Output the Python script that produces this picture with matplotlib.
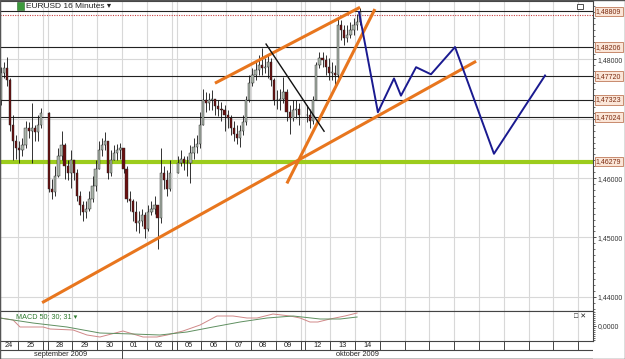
import matplotlib
matplotlib.use('Agg')
import matplotlib.pyplot as plt
from matplotlib.patches import Rectangle
from matplotlib.ticker import FixedLocator, FixedFormatter, MultipleLocator, NullFormatter

plt.rcParams['font.family'] = ['Liberation Sans', 'DejaVu Sans']

# ---- sessions ----
day_labels = ['24', '25', '28', '29', '30', '01', '02', '05', '06', '07', '08', '09', '12', '13', '14']
weekend_after = ['25', '02', '09']
future_cells = 9
bars_per_day = [8] * 14 + [2]
months = [('september 2009', 0, 5), ('oktober 2009', 5, None)]

# ---- candles (open = previous close) ----
first_open = 1.4734
closes = [
    1.4739, 1.4731, 1.4778, 1.4785, 1.4765, 1.4689, 1.4663, 1.4650,  # 24
    1.4647, 1.4655, 1.4684, 1.4680, 1.4684, 1.4677, 1.4689, 1.4709,  # 25
    1.4582, 1.4576, 1.4604, 1.4638, 1.4655, 1.4621, 1.4609, 1.4630,  # 28
    1.4609, 1.4570, 1.4554, 1.4542, 1.4548, 1.4565, 1.4587, 1.4616,  # 29
    1.4647, 1.4655, 1.4663, 1.4609, 1.4630, 1.4643, 1.4647, 1.4650,  # 30
    1.4616, 1.4565, 1.4562, 1.4542, 1.4525, 1.4528, 1.4537, 1.4515,  # 01
    1.4542, 1.4548, 1.4554, 1.4532, 1.4609, 1.4596, 1.4582, 1.4609,  # 02
    1.4626, 1.4633, 1.4625, 1.4626, 1.4643, 1.4652, 1.4658, 1.4689,  # 05
    1.4731, 1.4726, 1.4731, 1.4734, 1.4721, 1.4717, 1.4714, 1.4706,  # 06
    1.4701, 1.4684, 1.4675, 1.4668, 1.4680, 1.4694, 1.4731, 1.4761,  # 07
    1.4773, 1.4782, 1.4790, 1.4785, 1.4788, 1.4795, 1.4765, 1.4731,  # 08
    1.4731, 1.4734, 1.4745, 1.4711, 1.4701, 1.4714, 1.4717, 1.4706,  # 09
    1.4706, 1.4697, 1.4731, 1.4790, 1.4802, 1.4799, 1.4787, 1.4778,  # 12
    1.4778, 1.4773, 1.4858, 1.4849, 1.4836, 1.4841, 1.4849, 1.4858,  # 13
    1.4863, 1.4880,                                                  # 14
]
highs = [
    1.4751, 1.4748, 1.4787, 1.4795, 1.4804, 1.4768, 1.4706, 1.4672,
    1.4663, 1.4667, 1.4697, 1.4694, 1.4726, 1.4689, 1.4706, 1.4719,
    1.4711, 1.4599, 1.4621, 1.4650, 1.4680, 1.4660, 1.4630, 1.4647,
    1.4630, 1.4616, 1.4579, 1.4562, 1.4562, 1.4579, 1.4604, 1.4630,
    1.4663, 1.4667, 1.4677, 1.4663, 1.4647, 1.4655, 1.4658, 1.4660,
    1.4650, 1.4621, 1.4579, 1.4565, 1.4562, 1.4545, 1.4548, 1.4542,
    1.4554, 1.4562, 1.4570, 1.4554, 1.4650, 1.4621, 1.4613, 1.4630,
    1.4638, 1.4647, 1.4638, 1.4638, 1.4655, 1.4668, 1.4672, 1.4711,
    1.4751, 1.4745, 1.4743, 1.4748, 1.4734, 1.4731, 1.4728, 1.4723,
    1.4714, 1.4706, 1.4697, 1.4689, 1.4689, 1.4706, 1.4739, 1.4773,
    1.4785, 1.4795, 1.4807, 1.4819, 1.4802, 1.4807, 1.4802, 1.4768,
    1.4748, 1.4751, 1.4770, 1.4750, 1.4723, 1.4731, 1.4731, 1.4726,
    1.4723, 1.4717, 1.4739, 1.4795, 1.4812, 1.4812, 1.4807, 1.4802,
    1.4795, 1.4790, 1.4870, 1.4866, 1.4858, 1.4858, 1.4863, 1.4870,
    1.4876, 1.4886,
]
lows = [
    1.4728, 1.4723, 1.4723, 1.4768, 1.4756, 1.4680, 1.4630, 1.4633,
    1.4625, 1.4638, 1.4650, 1.4668, 1.4625, 1.4663, 1.4663, 1.4684,
    1.4576, 1.4565, 1.4570, 1.4601, 1.4630, 1.4599, 1.4596, 1.4584,
    1.4596, 1.4562, 1.4537, 1.4528, 1.4532, 1.4545, 1.4560, 1.4579,
    1.4616, 1.4638, 1.4647, 1.4599, 1.4604, 1.4630, 1.4630, 1.4633,
    1.4609, 1.4559, 1.4545, 1.4528, 1.4511, 1.4508, 1.4520, 1.4499,
    1.4511, 1.4537, 1.4540, 1.4481, 1.4525, 1.4582, 1.4570, 1.4579,
    1.4609, 1.4621, 1.4613, 1.4604, 1.4592, 1.4633, 1.4643, 1.4650,
    1.4689, 1.4711, 1.4714, 1.4714, 1.4706, 1.4704, 1.4697, 1.4680,
    1.4684, 1.4672, 1.4663, 1.4658, 1.4652, 1.4672, 1.4689, 1.4728,
    1.4756, 1.4765, 1.4773, 1.4773, 1.4777, 1.4768, 1.4756, 1.4723,
    1.4717, 1.4714, 1.4726, 1.4697, 1.4675, 1.4697, 1.4701, 1.4689,
    1.4694, 1.4685, 1.4692, 1.4731, 1.4785, 1.4787, 1.4773, 1.4765,
    1.4765, 1.4756, 1.4768, 1.4832, 1.4824, 1.4829, 1.4836, 1.4841,
    1.4849, 1.4858,
]

# ---- horizontal levels ----
levels = [1.48809, 1.48206, 1.47720, 1.47323, 1.47024]
support = 1.46279
bid = 1.4875
price_ticks = [1.44, 1.45, 1.46, 1.47, 1.48]
tick_labels = ['1,44000', '1,45000', '1,46000', '', '1,48000']

# ---- drawn lines (time in sessions, price) ----
orange_t = [(1.98, 19.48), (8.95, 14.80), (11.85, 15.40)]
orange_p = [(1.4390, 1.4797), (1.4760, 1.4888), (1.4591, 1.4885)]
black_t = (11.01, 13.35)
black_p = (1.4826, 1.4679)
proj_t = [14.76, 15.52, 16.17, 16.45, 17.06, 17.66, 18.63, 20.20, 22.26]
proj_p = [1.4880, 1.4711, 1.4768, 1.4739, 1.4787, 1.4775, 1.4821, 1.4641, 1.4773]

# ---- MACD ----
macd_t = [0.28, 0.81, 1.09, 2.02, 2.30, 3.23, 3.79, 4.31, 5.24, 6.05, 6.61, 7.02, 7.66,
          8.35, 9.03, 9.68, 10.24, 10.65, 11.29, 11.98, 12.38, 12.78, 13.10, 13.59, 14.19, 14.68]
macd_v = [0.0008, 0.0006, -0.0001, -0.0001, -0.0003, -0.0004, -0.0009, -0.0011, -0.0005, -0.0011,
          -0.0011, -0.0009, -0.0005, 0.0001, 0.0010, 0.0010, 0.0008, 0.0008, 0.0012, 0.0010,
          0.0008, 0.0004, 0.0004, 0.0007, 0.0010, 0.0013]
signal_t = [0.28, 1.61, 2.98, 4.31, 5.65, 6.73, 7.82, 8.87, 9.96, 11.05, 12.10, 13.19, 14.00, 14.68]
signal_v = [0.0008, 0.0003, -0.0001, -0.0007, -0.0008, -0.0009, -0.0006, -0.0001, 0.0004,
            0.0008, 0.0010, 0.0007, 0.0007, 0.0009]

# session start positions
starts = []
pos = 0.0
for d in day_labels:
    starts.append(pos)
    pos += 1.0
    if d in weekend_after:
        pos += 0.2
future = [pos + k for k in range(future_cells)]

xs = []
for s, n in zip(starts, bars_per_day):
    for i in range(n):
        xs.append(s + (i + 0.5) / 8)
opens = [first_open] + closes[:-1]

W, H = 625, 359
XL = (7 / 24.8, 600 / 24.8)
grid_c = '#d8d8d8'
edges = sorted(set(starts + [s + 1 for s, d in zip(starts, day_labels) if d in weekend_after] + future))

fig = plt.figure(figsize=(W / 100, H / 100), dpi=100)

# ---- price panel ----
ax = fig.add_axes([0, 1 - 311 / H, 593 / W, 310 / H])
ax.set_xlim(*XL)
ax.set_ylim(1.43759, 1.48986)
for e in edges:
    ax.axvline(e, color=grid_c, lw=0.8, zorder=0)
for t in price_ticks:
    ax.axhline(t, color=grid_c, lw=0.8, zorder=0)
for lv in levels:
    ax.axhline(lv, color='#222222', lw=0.8, zorder=1)
ax.axhline(bid, color='#c84040', lw=0.8, ls=(0, (1, 1.2)), zorder=1)
ax.axhline(support, color='#9ccc1c', lw=3.0, zorder=2)

ax.vlines(xs, lows, highs, color='#111111', lw=0.6, zorder=3)
bottoms = [min(o, c) for o, c in zip(opens, closes)]
heights = [max(abs(c - o), 0.00006) for o, c in zip(opens, closes)]
colors = ['#aab4aa' if c >= o else '#6a1010' for o, c in zip(opens, closes)]
ax.bar(xs, heights, bottom=bottoms, width=0.09, color=colors,
       edgecolor='#222222', linewidth=0.3, zorder=4)

for t, p in zip(orange_t, orange_p):
    ax.plot(t, p, color='#e8761e', lw=2.2, solid_capstyle='butt', zorder=5)
ax.plot(black_t, black_p, color='#111111', lw=1.0, zorder=5)
ax.plot(proj_t, proj_p, color='#1a1a90', lw=1.4, zorder=5)

ax.yaxis.tick_right()
ax.yaxis.set_major_locator(FixedLocator(price_ticks))
ax.yaxis.set_major_formatter(FixedFormatter(tick_labels))
ax.yaxis.set_minor_locator(MultipleLocator(0.001))
ax.tick_params(axis='y', which='major', length=2.5, width=0.6, labelsize=5.0,
               colors='#333333', pad=1)
ax.tick_params(axis='y', which='minor', length=1.5, width=0.5, colors='#333333')
ax.set_xticks([])
for sp in ax.spines.values():
    sp.set_color('#444444')
    sp.set_linewidth(0.8)

box = dict(boxstyle='square,pad=0.2', fc='#fbe6d8', ec='#c07a5a', lw=0.6)
for lv in levels + [support]:
    ax.text(1.005, lv, ('%.5f' % lv).replace('.', ','),
            transform=ax.get_yaxis_transform(), ha='left', va='center',
            fontsize=5.0, color='#7a2a10', bbox=box, clip_on=False, zorder=10)

# ---- MACD panel ----
am = fig.add_axes([0, 18 / H, 593 / W, 30 / H])
am.set_xlim(*XL)
am.set_ylim(-0.0015, 0.0015)
for e in edges:
    am.axvline(e, color=grid_c, lw=0.8, zorder=0)
am.plot(macd_t, macd_v, color='#d08888', lw=0.7)
am.plot(signal_t, signal_v, color='#5f8f60', lw=0.7)
am.yaxis.tick_right()
am.set_yticks([0])
am.set_yticklabels(['0,0000'])
am.yaxis.set_minor_locator(MultipleLocator(0.0002))
am.tick_params(axis='y', which='major', length=2.5, width=0.6, labelsize=5.0,
               colors='#333333', pad=1)
am.tick_params(axis='y', which='minor', length=1.5, width=0.5, colors='#333333')
am.yaxis.set_minor_formatter(NullFormatter())
am.set_xticks([])
for sp in am.spines.values():
    sp.set_color('#444444')
    sp.set_linewidth(0.8)
am.text(16 / 593, 0.83, 'MACD 50; 30; 31 \u25be', transform=am.transAxes,
        fontsize=5.2, color='#2f7a2f', va='center')
am.text(0.968, 0.83, '\u25a1 \u2715', transform=am.transAxes,
        fontsize=5, color='#222222', va='center')

# ---- date rows ----
ad = fig.add_axes([0, 0, 593 / W, 18 / H])
ad.set_xlim(*XL)
ad.set_ylim(0, 18)
ad.axis('off')
ad.axhline(9, color='#444444', lw=0.8)
ad.axhline(0, color='#444444', lw=1.0)
for e in edges:
    ad.plot([e, e], [9, 18], color='#444444', lw=0.7)
for s, d in zip(starts, day_labels):
    c = (max(s, XL[0]) + s + 1) / 2
    ad.text(c, 13.5, d, ha='center', va='center', fontsize=5.3, color='#222222')
for name, i0, i1 in months:
    a = max(starts[i0], XL[0])
    b = starts[i1] if i1 is not None else XL[1]
    if i1 is not None:
        ad.plot([b, b], [0, 9], color='#444444', lw=0.7)
    ad.text((a + b) / 2, 4.5, name, ha='center', va='center', fontsize=5.3, color='#222222')

# ---- header ----
fig.patches.append(Rectangle((17 / W, 1 - 10 / H), 7 / W, 8 / H, transform=fig.transFigure,
                             fc='#3c9a3c', ec='#2a6a2a', lw=0.4))
fig.text(26 / W, 1 - 6.5 / H, 'EURUSD 16 Minutes \u25be', fontsize=6,
         color='#222222', va='center')
fig.patches.append(Rectangle((577 / W, 1 - 9 / H), 6 / W, 5 / H, transform=fig.transFigure,
                             fc='white', ec='#333333', lw=0.6))
fig.patches.append(Rectangle((0, 0), 1, 1, transform=fig.transFigure,
                             fc='none', ec='#555555', lw=1.0))

fig.savefig('out.png', dpi=100)
